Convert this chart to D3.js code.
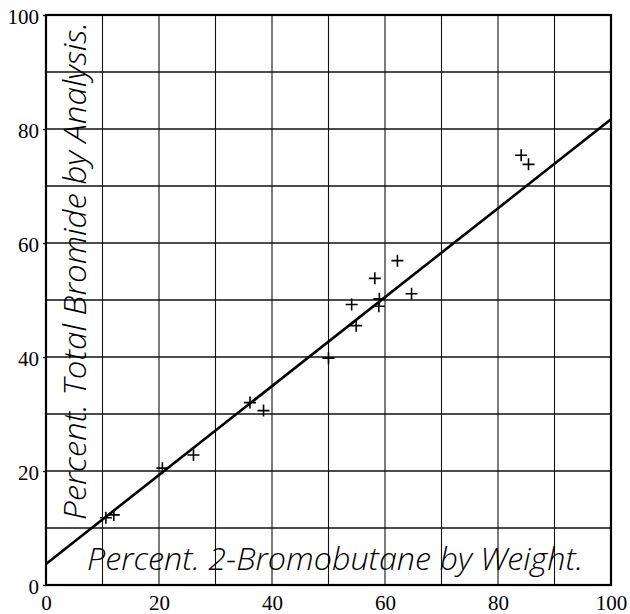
<!DOCTYPE html>
<html>
<head>
<meta charset="utf-8">
<script src="https://cdn.jsdelivr.net/npm/d3@7"></script>
<style>
  body { margin: 0; background: #fff; }
</style>
</head>
<body>
<div id="chart"></div>
<script>
// percent 2-bromobutane by weight (x) vs percent total bromide by analysis (y)
var weightPct = [10.6, 12.0, 20.6, 26.1, 36.1, 38.5, 50.0, 54.1, 54.9, 58.2, 58.9, 59.0, 62.2, 64.7, 84.1, 85.4];
var analysisPct = [11.8, 12.3, 20.5, 22.8, 32.0, 30.6, 39.8, 49.2, 45.5, 53.8, 48.9, 50.2, 56.9, 51.1, 75.4, 73.8];
var lineX = [0, 100];
var lineY = [3.7, 81.7];
var tickValues = [0, 20, 40, 60, 80, 100];
var gridValues = [0, 10, 20, 30, 40, 50, 60, 70, 80, 90, 100];
var xTitle = "Percent. 2-Bromobutane by Weight.";
var yTitle = "Percent. Total Bromide by Analysis.";

var width = 630, height = 614;
var margin = {top: 15, right: 19, bottom: 29, left: 46};

var svg = d3.select("#chart").append("svg")
    .attr("width", width)
    .attr("height", height);

var x = d3.scaleLinear()
    .domain([0, 100])
    .range([margin.left, width - margin.right]);

var y = d3.scaleLinear()
    .domain([0, 100])
    .range([height - margin.bottom, margin.top]);

// grid
svg.append("g").selectAll("line")
    .data(gridValues)
    .enter().append("line")
    .attr("x1", d => x(d)).attr("x2", d => x(d))
    .attr("y1", y(0)).attr("y2", y(100))
    .attr("stroke", "#111").attr("stroke-width", 1.1);

svg.append("g").selectAll("line")
    .data(gridValues)
    .enter().append("line")
    .attr("y1", d => y(d)).attr("y2", d => y(d))
    .attr("x1", x(0)).attr("x2", x(100))
    .attr("stroke", "#111").attr("stroke-width", 1.3);

// frame
svg.append("rect")
    .attr("x", x(0)).attr("y", y(100))
    .attr("width", x(100) - x(0))
    .attr("height", y(0) - y(100))
    .attr("fill", "none")
    .attr("stroke", "#000")
    .attr("stroke-width", 2.2);

// axes
var xAxis = d3.axisBottom(x).tickValues(tickValues).tickSize(0).tickPadding(10);
var yAxis = d3.axisLeft(y).tickValues(tickValues).tickSize(3).tickPadding(4);

var gx = svg.append("g")
    .attr("transform", "translate(0," + y(0) + ")")
    .call(xAxis);
gx.select(".domain").remove();
gx.selectAll("text")
    .attr("font-family", "'Liberation Serif', serif")
    .attr("font-size", 21)
    .attr("fill", "#000");

var gy = svg.append("g")
    .attr("transform", "translate(" + x(0) + ",0)")
    .call(yAxis);
gy.select(".domain").remove();
gy.selectAll("line").attr("stroke", "#000").attr("stroke-width", 1.3);
gy.selectAll("text")
    .attr("font-family", "'Liberation Serif', serif")
    .attr("font-size", 21)
    .attr("fill", "#000")
    .attr("dy", "0.42em");

// axis titles written inside the plot
svg.append("text")
    .attr("x", 87)
    .attr("y", 570)
    .attr("textLength", 496)
    .attr("lengthAdjust", "spacingAndGlyphs")
    .style("font-family", "'Open Sans', 'DejaVu Sans', sans-serif")
    .style("font-style", "italic")
    .style("font-weight", 300)
    .style("font-size", "32px")
    .text(xTitle);

svg.append("text")
    .attr("transform", "translate(86,520) rotate(-90)")
    .attr("textLength", 498)
    .attr("lengthAdjust", "spacingAndGlyphs")
    .style("font-family", "'Open Sans', 'DejaVu Sans', sans-serif")
    .style("font-style", "italic")
    .style("font-weight", 300)
    .style("font-size", "32px")
    .text(yTitle);

// fitted line
var lineData = lineX.map((d, i) => ({x: d, y: lineY[i]}));
svg.append("path")
    .datum(lineData)
    .attr("fill", "none")
    .attr("stroke", "#000")
    .attr("stroke-width", 2.6)
    .attr("d", d3.line().x(d => x(d.x)).y(d => y(d.y)));

// plus markers
var points = weightPct.map((d, i) => ({x: d, y: analysisPct[i]}));
svg.append("g").selectAll("path")
    .data(points)
    .enter().append("path")
    .attr("transform", d => "translate(" + x(d.x) + "," + y(d.y) + ")")
    .attr("d", "M-6,0H6M0,-6V6")
    .attr("stroke", "#000")
    .attr("stroke-width", 1.6)
    .attr("fill", "none");
</script>
</body>
</html>
